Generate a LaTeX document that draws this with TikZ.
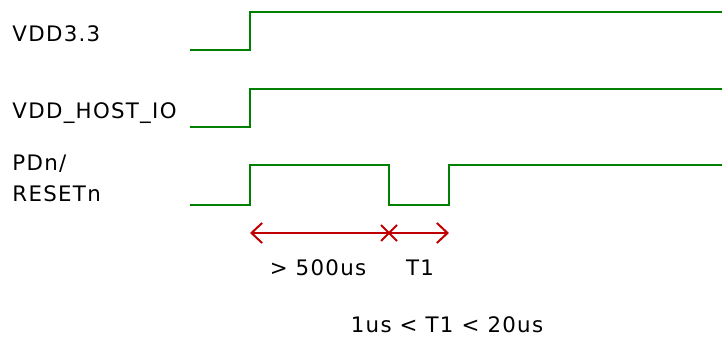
\documentclass[tikz,border=0pt]{standalone}
\usepackage{fontspec}
\setmainfont{DejaVu Sans}
\usetikzlibrary{arrows.meta}

\tikzset{every picture/.style={line width=0.75pt}}
\tikzset{
  wave/.style={draw={rgb, 255:red, 0; green, 128; blue, 0 }, line width=1.5},
  span/.style={draw={rgb, 255:red, 192; green, 0; blue, 0 }, line width=1.5, -{Straight Barb[length=8pt,width=15pt]}},
  lbl/.style={inner sep=0pt, anchor=base west, font=\fontsize{16}{18}\selectfont\addfontfeature{LetterSpace=6}},
  note/.style={inner sep=0pt, anchor=base, font=\fontsize{16}{18}\selectfont\addfontfeature{LetterSpace=6}}
}

\begin{document}
\begin{tikzpicture}[x=0.75pt,y=0.75pt,yscale=-1,xscale=1]
	\useasboundingbox (0,0) rectangle (722,338);

	% Text Node
	\node[lbl] (vdd) at (12,42) {VDD3.3};
	% Text Node
	\node[lbl] (host) at (12,119) {VDD\_HOST\_IO};
	% Text Node
	\node[lbl] (pdn) at (12,171) {PDn/};
	% Text Node
	\node[lbl] (rst) at (12,202) {RESETn};

	%Waveforms
	\draw [wave] (190,50) -- (250,50) -- (250,12) -- (722,12) ;
	\draw [wave] (190,127) -- (250,127) -- (250,89) -- (722,89) ;
	\draw [wave] (190,205) -- (250,205) -- (250,165) -- (389,165) -- (389,205) -- (449,205) -- (449,165) -- (722,165) ;

	%Timing marks
	\coordinate (t0) at (250,233);
	\coordinate (t1) at (389,233);
	\coordinate (t2) at (449,233);
	\draw [span] (t1) -- (t0) ;
	\draw [span] (t1) -- (t2) ;
	\draw [span, -] ([shift={(-8,-8)}]t1) -- ([shift={(8,8)}]t1) ;
	\draw [span, -] ([shift={(-8,8)}]t1) -- ([shift={(8,-8)}]t1) ;

	% Text Node
	\node[note] (min) at (318,276) {> 500us};
	% Text Node
	\node[note] (tone) at (420,276) {T1};
	% Text Node
	\node[note] (range) at (447,333) {1us < T1 < 20us};

\end{tikzpicture}
\end{document}
